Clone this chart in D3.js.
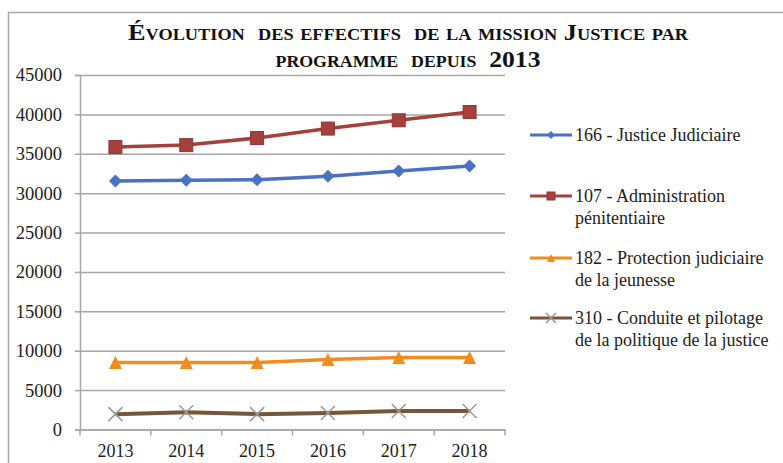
<!DOCTYPE html>
<html>
<head>
<meta charset="utf-8">
<script src="https://cdn.jsdelivr.net/npm/d3@7"></script>
<style>
  body { margin: 0; background: #fff; }
</style>
</head>
<body>
<script>
// chart data
var years = ["2013", "2014", "2015", "2016", "2017", "2018"];
var s166 = [31550, 31650, 31700, 32150, 32800, 33450];
var s107 = [35850, 36100, 37000, 38200, 39250, 40300];
var s182 = [8500, 8500, 8500, 8900, 9150, 9150];
var s310 = [1950, 2200, 1950, 2100, 2350, 2350];
var yTicks = [0, 5000, 10000, 15000, 20000, 25000, 30000, 35000, 40000, 45000];
var titleLines = ["Évolution  des effectifs  de la mission Justice par", "programme  depuis  2013"];

var series = [
  {name: ["166 - Justice Judiciaire"], values: s166, color: "#4a72c0", marker: "diamond"},
  {name: ["107 - Administration", "pénitentiaire"], values: s107, color: "#a5403d", marker: "square"},
  {name: ["182 - Protection judiciaire", "de la jeunesse"], values: s182, color: "#f28c1e", marker: "triangle"},
  {name: ["310 - Conduite et pilotage", "de la politique de la justice"], values: s310, color: "#7a5535", marker: "cross"}
];

var FONT = "'Liberation Serif', 'Times New Roman', Times, serif";

var width = 783,
    height = 463;

var svg = d3.select("body").append("svg")
    .attr("width", width)
    .attr("height", height)
    .attr("font-family", FONT);

// outer frame of the chart
svg.append("rect")
    .attr("x", 8.5).attr("y", 12.5)
    .attr("width", 900).attr("height", 600)
    .attr("fill", "none")
    .attr("stroke", "#a8a8a8")
    .attr("stroke-width", 1.5);

// title
var titleWidths = [560, 265];
svg.append("g").selectAll("text")
  .data(titleLines)
  .enter().append("text")
    .attr("x", 408)
    .attr("y", function(d, i) { return 40 + i * 27; })
    .attr("text-anchor", "middle")
    .attr("font-family", FONT)
    .attr("font-weight", "bold")
    .attr("font-size", 23)
    .attr("textLength", function(d, i) { return titleWidths[i]; })
    .attr("lengthAdjust", "spacingAndGlyphs")
    .style("font-variant", "small-caps")
    .style("white-space", "pre")
    .attr("fill", "#111")
    .text(function(d) { return d; });

var plot = {left: 80, right: 505, top: 75, bottom: 429.5};

var x = d3.scaleBand()
    .domain(years)
    .range([plot.left, plot.right])
    .padding(0);

var y = d3.scaleLinear()
    .domain([0, 45000])
    .range([plot.bottom, plot.top]);

function cx(d) { return x(d) + x.bandwidth() / 2; }

// gridlines
svg.append("g")
    .attr("transform", "translate(" + plot.left + ",0)")
    .call(d3.axisLeft(y).tickValues(yTicks).tickSize(-(plot.right - plot.left)).tickFormat(""))
    .call(function(g) { g.select(".domain").remove(); })
    .selectAll("line")
      .attr("stroke", "#a6a6a6")
      .attr("stroke-width", 1.5);

// y axis
var yAxis = svg.append("g")
    .attr("transform", "translate(" + plot.left + ",0)")
    .call(d3.axisLeft(y).tickValues(yTicks).tickSize(5).tickPadding(13).tickFormat(d3.format("d")))
    .attr("font-family", FONT)
    .attr("font-size", 18.5);
yAxis.select(".domain").attr("stroke", "#a6a6a6").attr("stroke-width", 1.5);
yAxis.selectAll("line").attr("stroke", "#a6a6a6").attr("stroke-width", 1.5);
yAxis.selectAll("text").attr("fill", "#222");

// x axis
var xAxis = svg.append("g")
    .attr("transform", "translate(0," + plot.bottom + ")")
    .call(d3.axisBottom(x).tickSize(0).tickPadding(15))
    .attr("font-family", FONT)
    .attr("font-size", 18);
xAxis.select(".domain").attr("stroke", "#a6a6a6").attr("stroke-width", 1.5);
xAxis.selectAll("text").attr("fill", "#222");
// tick marks between categories
xAxis.selectAll(".sep")
  .data(years.concat(["end"]))
  .enter().append("line")
    .attr("x1", function(d, i) { return plot.left + i * x.step(); })
    .attr("x2", function(d, i) { return plot.left + i * x.step(); })
    .attr("y1", 0).attr("y2", 6)
    .attr("stroke", "#a6a6a6")
    .attr("stroke-width", 1.5);

// marker shapes
function drawMarker(g, type, color, s) {
  if (type == "diamond") {
    g.append("path")
      .attr("d", "M0," + (-s) + "L" + s + ",0L0," + s + "L" + (-s) + ",0Z")
      .attr("fill", color);
  } else if (type == "square") {
    g.append("rect")
      .attr("x", -s).attr("y", -s).attr("width", 2 * s).attr("height", 2 * s)
      .attr("fill", color)
      .attr("stroke", d3.color(color).darker(0.4))
      .attr("stroke-width", 1);
  } else if (type == "triangle") {
    g.append("path")
      .attr("d", "M0," + (-s) + "L" + s + "," + s + "L" + (-s) + "," + s + "Z")
      .attr("fill", color);
  } else {
    g.append("path")
      .attr("d", "M" + (-s) + "," + (-s) + "L" + s + "," + s + "M" + s + "," + (-s) + "L" + (-s) + "," + s)
      .attr("fill", "none")
      .attr("stroke", "#9a9a9a")
      .attr("stroke-width", 1.5);
  }
}

var line = d3.line()
    .x(function(d, i) { return cx(years[i]); })
    .y(function(d) { return y(d); });

series.forEach(function(s) {
  var g = svg.append("g");
  g.append("path")
    .datum(s.values)
    .attr("d", line)
    .attr("fill", "none")
    .attr("stroke", s.color)
    .attr("stroke-width", s.marker == "cross" ? 4 : 3.5);
  s.values.forEach(function(v, i) {
    var m = g.append("g").attr("transform", "translate(" + cx(years[i]) + "," + y(v) + ")");
    drawMarker(m, s.marker, s.color, s.marker == "cross" ? 7 : 6.5);
  });
});

// legend
var legendY = [135, 196, 258, 318];
var legend = svg.append("g")
    .attr("font-family", FONT)
    .attr("font-size", 18);
series.forEach(function(s, i) {
  var g = legend.append("g").attr("transform", "translate(0," + legendY[i] + ")");
  g.append("line")
    .attr("x1", 530).attr("x2", 572)
    .attr("stroke", s.color)
    .attr("stroke-width", 3);
  var m = g.append("g").attr("transform", "translate(551,0)");
  drawMarker(m, s.marker, s.color, s.marker == "cross" ? 5 : 4);
  g.selectAll("text")
    .data(s.name)
    .enter().append("text")
      .attr("x", 575)
      .attr("y", function(d, j) { return j * 22; })
      .attr("dy", "0.35em")
      .attr("fill", "#222")
      .text(function(d) { return d; });
});
</script>
</body>
</html>
